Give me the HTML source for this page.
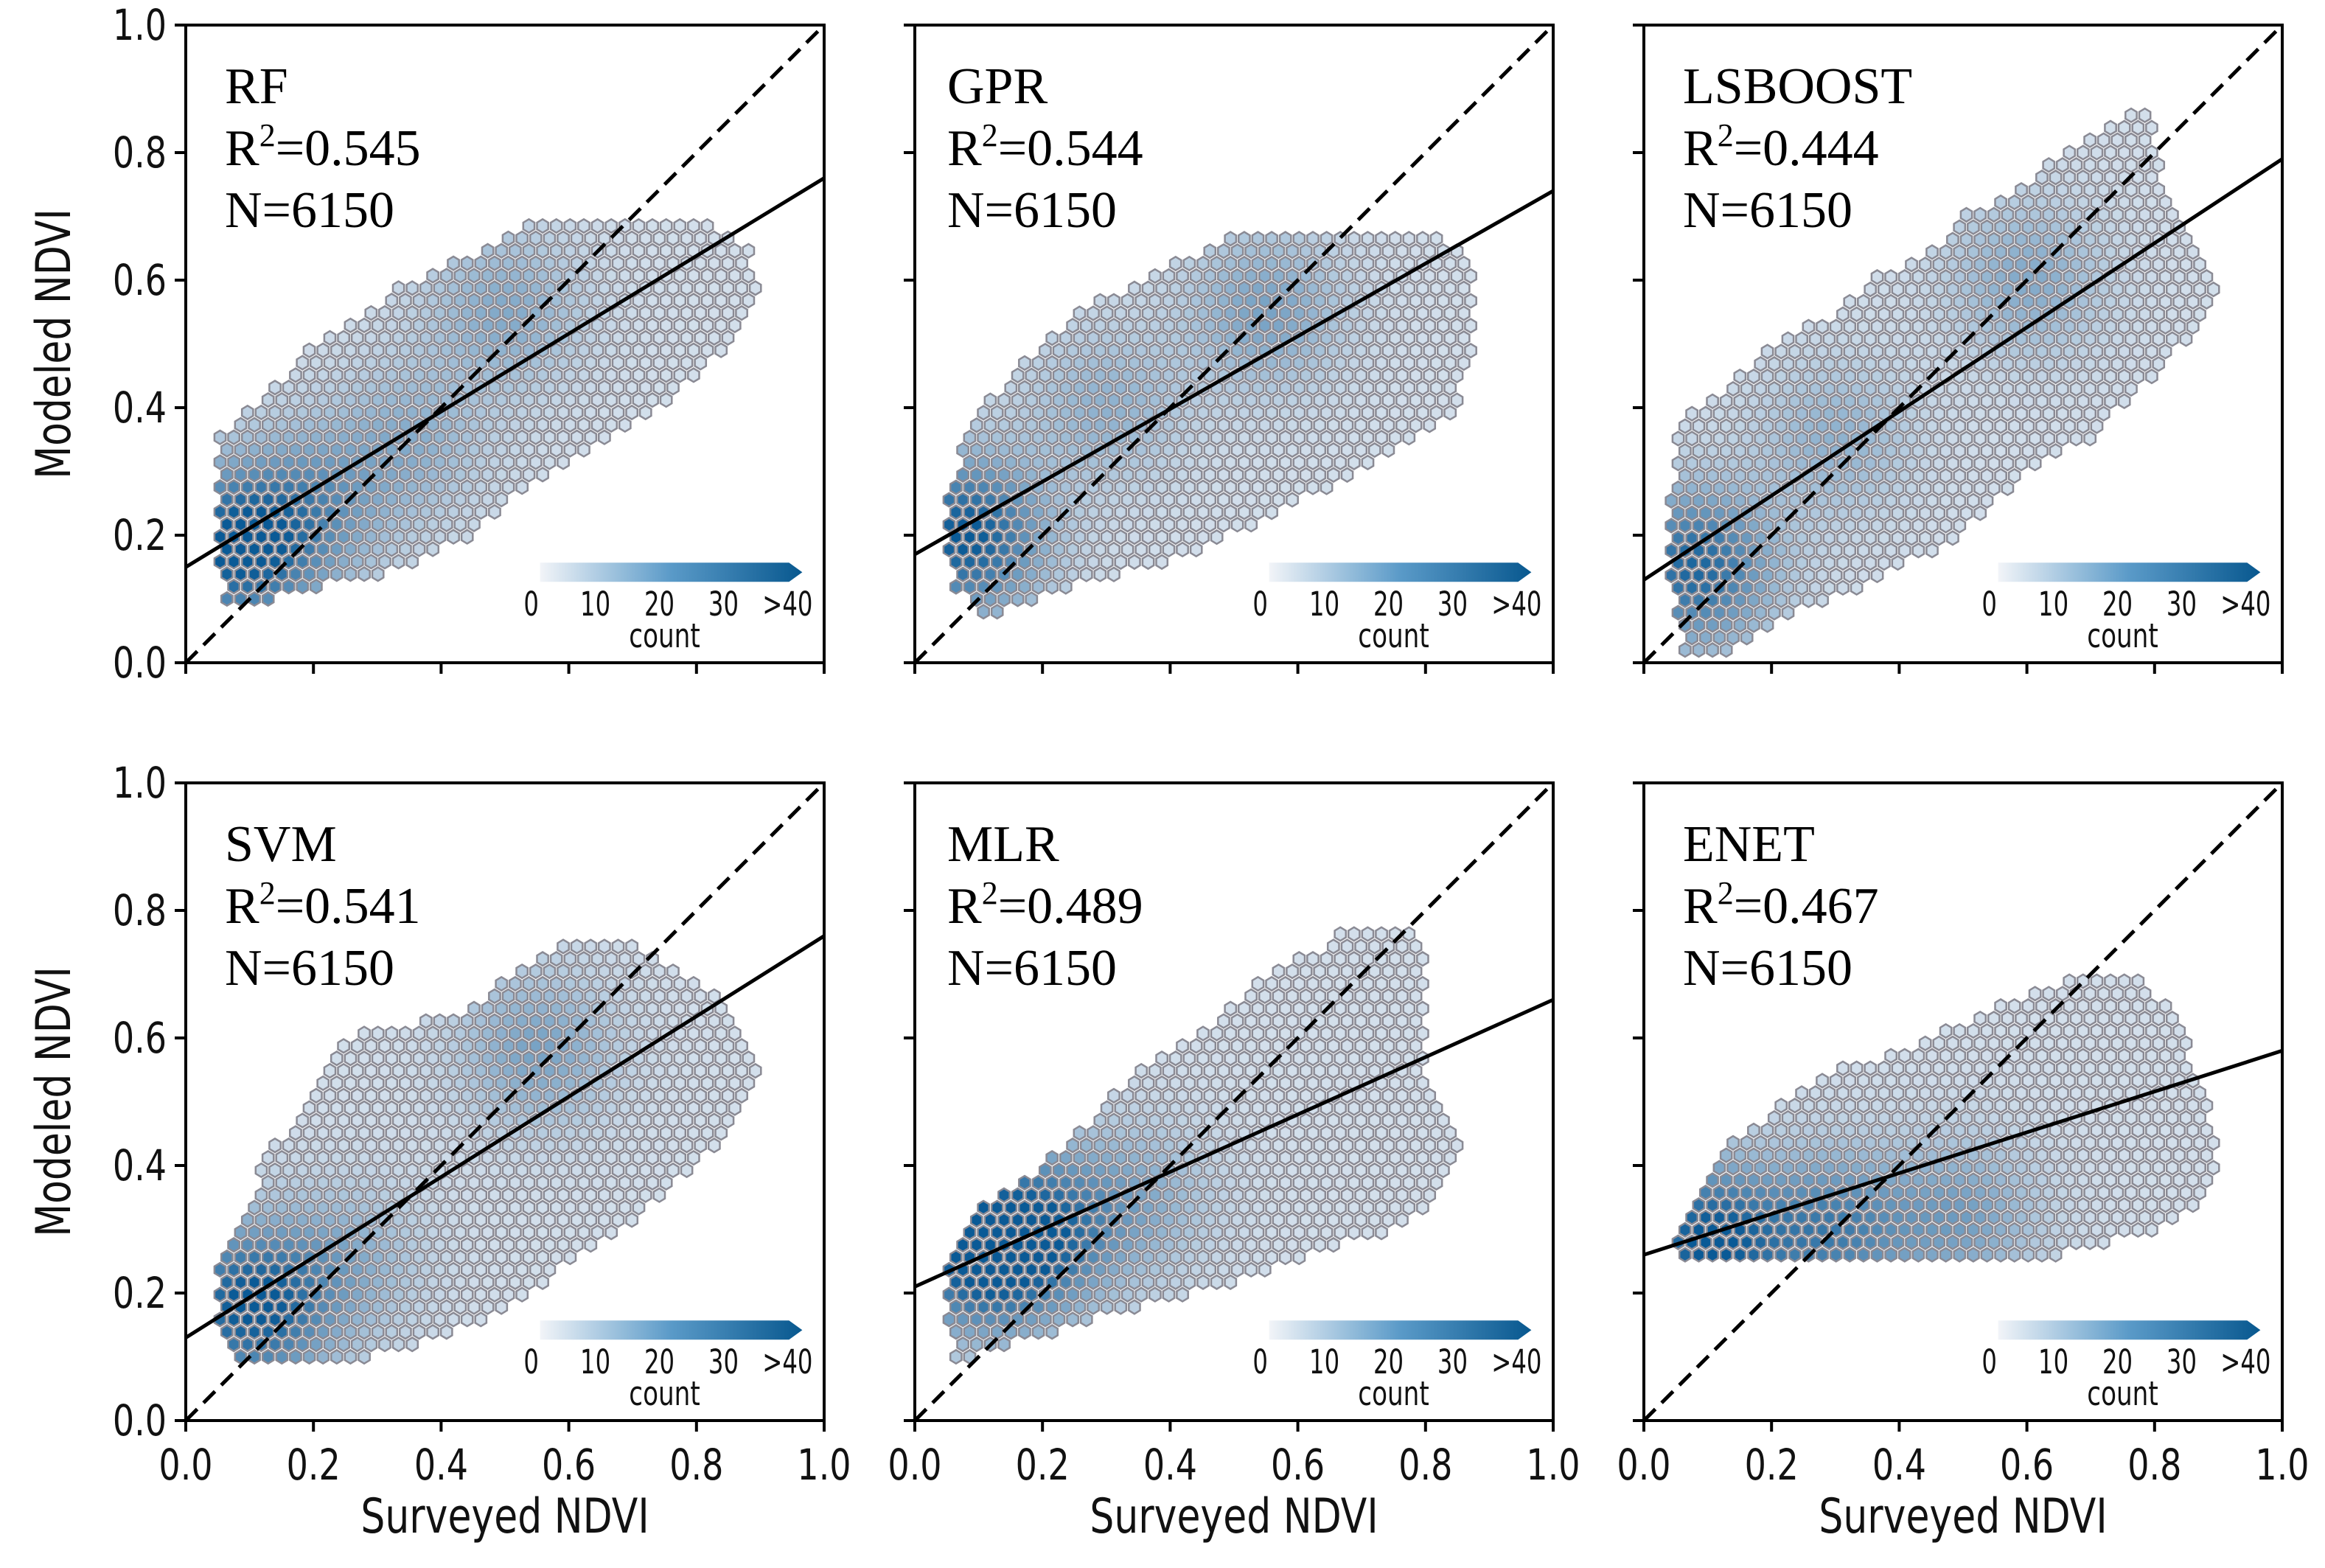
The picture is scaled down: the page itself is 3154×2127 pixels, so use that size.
<!DOCTYPE html>
<html><head><meta charset="utf-8"><style>
html,body{margin:0;padding:0;background:#fff;}
svg{display:block;}
</style></head><body>
<svg id="fig" xmlns="http://www.w3.org/2000/svg" width="3154" height="2127" viewBox="0 0 3154 2127"></svg>
<script>
// ---- data ----
const panelNames = ["RF","GPR","LSBOOST","SVM","MLR","ENET"];
const r2Values = ["0.545","0.544","0.444","0.541","0.489","0.467"];
const nValues = ["6150","6150","6150","6150","6150","6150"];
const fitIntercepts = [0.15,0.17,0.13,0.13,0.21,0.26];
const fitAtOne = [0.76,0.74,0.79,0.76,0.66,0.58];
const xTicks = [0.0,0.2,0.4,0.6,0.8,1.0];
const yTicks = [0.0,0.2,0.4,0.6,0.8,1.0];
const cbarLabels = ["0","10","20","30",">40"];
// cloud envelopes: y level, xmin, xmax
const envY = [
 [0.10,0.15,0.20,0.25,0.30,0.35,0.40,0.45,0.50,0.55,0.60,0.65,0.70],
 [0.08,0.12,0.16,0.20,0.25,0.30,0.35,0.40,0.45,0.50,0.55,0.60,0.65,0.68],
 [0.02,0.06,0.10,0.15,0.20,0.25,0.30,0.35,0.40,0.45,0.50,0.55,0.60,0.65,0.70,0.75,0.80,0.86],
 [0.10,0.15,0.20,0.25,0.30,0.35,0.40,0.45,0.50,0.55,0.60,0.65,0.70,0.76],
 [0.10,0.15,0.20,0.25,0.30,0.35,0.40,0.45,0.50,0.55,0.60,0.65,0.70,0.75,0.78],
 [0.26,0.30,0.35,0.40,0.45,0.50,0.55,0.60,0.65,0.69]
];
const envXmin = [
 [0.06,0.05,0.05,0.05,0.05,0.05,0.10,0.15,0.20,0.28,0.35,0.48,0.55],
 [0.10,0.06,0.05,0.05,0.05,0.06,0.08,0.10,0.15,0.20,0.25,0.35,0.45,0.50],
 [0.06,0.05,0.05,0.04,0.04,0.04,0.05,0.05,0.08,0.15,0.20,0.30,0.35,0.45,0.50,0.60,0.65,0.75],
 [0.07,0.05,0.05,0.05,0.07,0.10,0.12,0.15,0.20,0.22,0.25,0.45,0.50,0.62],
 [0.06,0.05,0.05,0.05,0.07,0.12,0.20,0.25,0.30,0.35,0.42,0.50,0.55,0.65,0.68],
 [0.05,0.05,0.08,0.10,0.15,0.22,0.30,0.45,0.55,0.65]
];
const envXmax = [
 [0.14,0.35,0.45,0.50,0.58,0.65,0.75,0.80,0.85,0.88,0.90,0.88,0.80],
 [0.14,0.25,0.40,0.50,0.60,0.70,0.78,0.85,0.85,0.88,0.88,0.88,0.85,0.80],
 [0.14,0.20,0.30,0.40,0.50,0.55,0.60,0.70,0.75,0.80,0.85,0.88,0.90,0.87,0.85,0.82,0.80,0.80],
 [0.30,0.45,0.55,0.60,0.68,0.75,0.80,0.85,0.87,0.90,0.88,0.85,0.78,0.68],
 [0.10,0.25,0.45,0.60,0.75,0.82,0.85,0.85,0.82,0.80,0.80,0.80,0.80,0.80,0.78],
 [0.65,0.80,0.88,0.90,0.90,0.88,0.85,0.85,0.82,0.78]
];
// density hotspots: [x, y, strength]
const hotspots = [
 [[0.08,0.18,0.9],[0.2,0.25,0.4],[0.5,0.55,0.35],[0.35,0.35,0.3]],
 [[0.08,0.2,0.9],[0.55,0.55,0.4],[0.3,0.4,0.3]],
 [[0.08,0.15,0.8],[0.3,0.35,0.3],[0.6,0.6,0.35]],
 [[0.1,0.18,0.9],[0.55,0.58,0.4],[0.25,0.25,0.3]],
 [[0.1,0.26,0.9],[0.2,0.3,0.6],[0.35,0.35,0.3]],
 [[0.1,0.28,0.9],[0.3,0.3,0.6],[0.5,0.32,0.4]]
];

// ---- layout ----
const NS = "http://www.w3.org/2000/svg";
const svg = document.getElementById("fig");
const colLeft = [252, 1241, 2230];
const rowTop = [34, 1062];
const W = 866, H = 865;
function mk(tag, attrs, parent){ const e=document.createElementNS(NS,tag); for(const k in attrs) e.setAttribute(k,attrs[k]); (parent||svg).appendChild(e); return e; }

const defs = mk("defs",{});
const lg = mk("linearGradient",{id:"cbg",x1:"0",x2:"1",y1:"0",y2:"0"},defs);
mk("stop",{offset:"0","stop-color":"#f2f4f8"},lg);
mk("stop",{offset:"0.5","stop-color":"#5a9ac8"},lg);
mk("stop",{offset:"1","stop-color":"#08588f"},lg);

function lerpEnv(ys, arr, y){
  for(let i=0;i<ys.length-1;i++){ if(y>=ys[i]&&y<=ys[i+1]){ const t=(y-ys[i])/(ys[i+1]-ys[i]); return arr[i]+t*(arr[i+1]-arr[i]); } }
  return null;
}
function colorFor(d){
  const a=[238,241,247], b=[10,90,150];
  const c=a.map((v,i)=>Math.round(v+(b[i]-v)*d));
  return `rgb(${c[0]},${c[1]},${c[2]})`;
}

for(let p=0;p<6;p++){
  const col=p%3, row=Math.floor(p/3);
  const x0=colLeft[col], y0=rowTop[row];
  const sx=v=>x0+v*W, sy=v=>y0+H-v*H;
  const g=mk("g",{});
  
  
  const hg=mk("g",{},g);
  
  
  const dx=0.0215, dy=0.0195;
  const ys=envY[p];
  let r=0;
  for(let y=ys[0]; y<=ys[ys.length-1]+1e-9; y+=dy, r++){
    const xmn=lerpEnv(ys,envXmin[p],y), xmx=lerpEnv(ys,envXmax[p],y);
    if(xmn===null) continue;
    const off=(r%2)?dx/2:0;
    for(let x=off; x<=1; x+=dx){
      if(x<xmn-1e-9||x>xmx+1e-9) continue;
      let d=0.12;
      for(const h of hotspots[p]){ const q=((x-h[0])**2+(y-h[1])**2)/(2*0.085*0.085); d+=h[2]*Math.exp(-q); }
      d=Math.min(1,d);
      const cx=sx(x), cy=sy(y), hw=dx*W/2*0.82, hh=dy*H*2/3*0.82;
      const pts=[[cx,cy-hh],[cx+hw,cy-hh/2],[cx+hw,cy+hh/2],[cx,cy+hh],[cx-hw,cy+hh/2],[cx-hw,cy-hh/2]].map(a=>a[0].toFixed(1)+","+a[1].toFixed(1)).join(" ");
      const hx=mk("polygon",{points:pts,fill:colorFor(d),stroke:"#8a8a94","stroke-width":"2.5"},hg);
      
      
    }
  }
  const dl=mk("line",{x1:sx(0),y1:sy(0),x2:sx(1),y2:sy(1),stroke:"#000","stroke-width":"5","stroke-dasharray":"22,12"},g);
  
  
  const fl=mk("line",{x1:sx(0),y1:sy(fitIntercepts[p]),x2:sx(1),y2:sy(fitAtOne[p]),stroke:"#000","stroke-width":"5"},g);
  
  
  const fr=mk("rect",{x:x0,y:y0,width:W,height:H,fill:"none",stroke:"#000","stroke-width":"4"},g);
  
  
  xTicks.forEach(v=>{
    const t=mk("line",{x1:sx(v),y1:y0+H,x2:sx(v),y2:y0+H+15,stroke:"#000","stroke-width":"4"},g);
    
    
    if(row===1){
      const tl=mk("text",{transform:`translate(${sx(v)},${y0+H+80}) scale(1,1.25)`,"text-anchor":"middle","font-family":"DejaVu Sans, Liberation Sans, sans-serif","font-size":"46",fill:"#111"},g);
      tl.textContent=v.toFixed(1);
      
      
    }
  });
  yTicks.forEach(v=>{
    const t=mk("line",{x1:x0-15,y1:sy(v),x2:x0,y2:sy(v),stroke:"#000","stroke-width":"4"},g);
    
    
    if(col===0){
      const tl=mk("text",{transform:`translate(${x0-26},${sy(v)+20}) scale(1,1.25)`,"text-anchor":"end","font-family":"DejaVu Sans, Liberation Sans, sans-serif","font-size":"46",fill:"#111"},g);
      tl.textContent=v.toFixed(1);
      
      
    }
  });
  const ty=[y0+106,y0+190,y0+274];
  const tx=x0+(col===1?44:53);
  const t1=mk("text",{x:tx,y:ty[0],"font-family":"Liberation Serif, serif","font-size":"70",fill:"#000"},g);
  t1.textContent=panelNames[p];
  
  
  const t2=mk("text",{x:tx,y:ty[1],"font-family":"Liberation Serif, serif","font-size":"70",fill:"#000"},g);
  
  
  t2.appendChild(document.createTextNode("R"));
  const sup=mk("tspan",{"font-size":"44",dy:"-26"},t2); sup.textContent="2";
  const rest=mk("tspan",{dy:"26"},t2); rest.textContent="="+r2Values[p];
  const t3=mk("text",{x:tx,y:ty[2],"font-family":"Liberation Serif, serif","font-size":"70",fill:"#000"},g);
  t3.textContent="N="+nValues[p];
  
  
  const cg=mk("g",{},g);
  
  
  const bx0=x0+0.555*W, bx1=x0+0.945*W, by=y0+H-0.157*H, bh=26;
  mk("path",{d:`M${bx0},${by} L${bx1},${by} L${bx1+18},${by+bh/2} L${bx1},${by+bh} L${bx0},${by+bh} Z`,fill:"url(#cbg)"},cg);
  cbarLabels.forEach((s,i)=>{
    const lx=bx0-12+i*(bx1+10-bx0)/4;
    const l=mk("text",{transform:`translate(${lx},${by+72}) scale(0.85,1.2)`,"text-anchor":"middle","font-family":"DejaVu Sans, Liberation Sans, sans-serif","font-size":"38",fill:"#111"},cg);
    l.textContent=s;
    
    
  });
  const cl=mk("text",{transform:`translate(${(bx0+bx1)/2},${by+115}) scale(0.9,1.2)`,"text-anchor":"middle","font-family":"DejaVu Sans, Liberation Sans, sans-serif","font-size":"38",fill:"#111"},cg);
  cl.textContent="count";
  
  
  if(col===0){
    const yl=mk("text",{transform:`translate(95,${y0+H/2}) rotate(-90) scale(1,1.25)`,"text-anchor":"middle","font-family":"DejaVu Sans, Liberation Sans, sans-serif","font-size":"52",fill:"#111"},g);
    yl.textContent="Modeled NDVI";
    
    
  }
  if(row===1){
    const xl=mk("text",{transform:`translate(${x0+W/2},${y0+H+152}) scale(1,1.25)`,"text-anchor":"middle","font-family":"DejaVu Sans, Liberation Sans, sans-serif","font-size":"52",fill:"#111"},g);
    xl.textContent="Surveyed NDVI";
    
    
  }
}
</script>
</body></html>
